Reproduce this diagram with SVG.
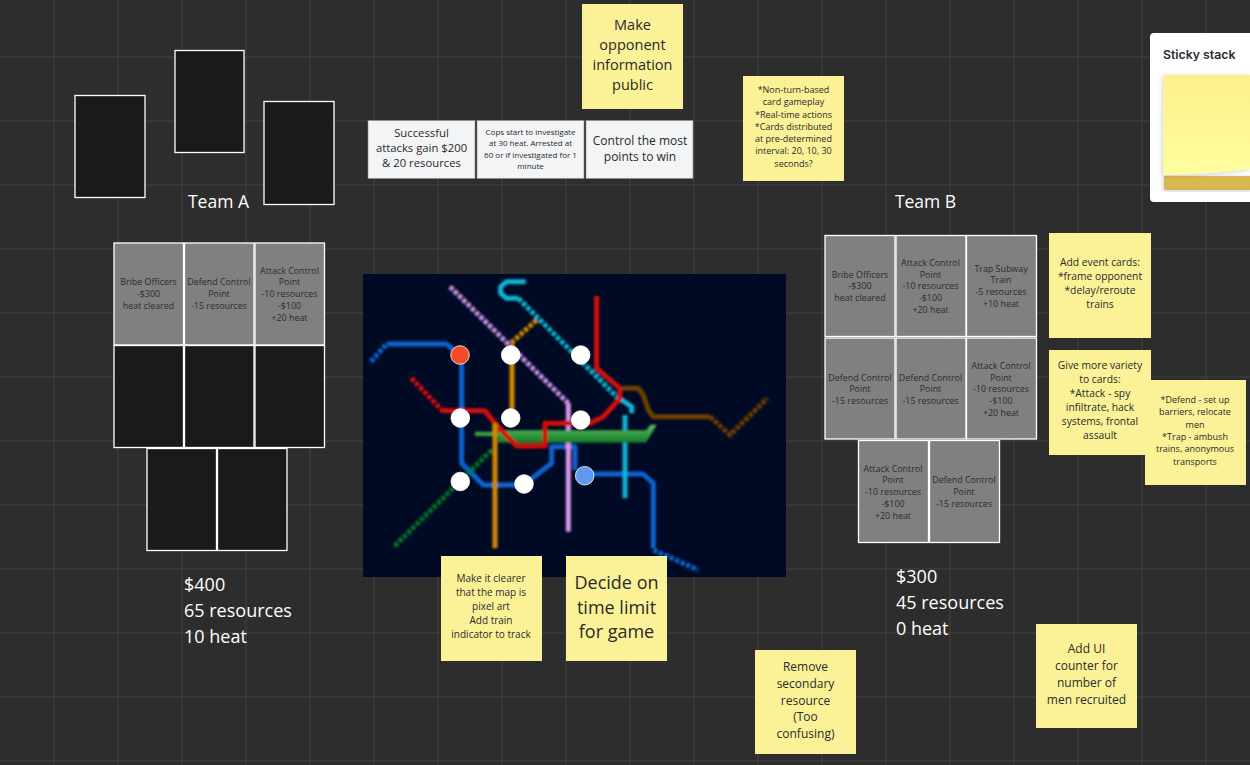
<svg xmlns="http://www.w3.org/2000/svg" width="1250" height="765" viewBox="0 0 1250 765">
<style>
text{font-family:"Open Sans","Noto Sans","Liberation Sans",sans-serif;text-anchor:middle;dominant-baseline:central;transform:translateY(-.7px)}
.grid{stroke:#3d3d3d;stroke-width:1.5;fill:none}
.black{fill:#1a1a1a;stroke:#fff;stroke-width:1.3}
.card rect{fill:#808080;stroke:#fff;stroke-width:1.3}
.card text{font-size:8.9px;fill:#2c2c2c}
.note{fill:#fbf297}
.white{fill:#f3f4f6;stroke:#8d8d8d;stroke-width:.6}
.ink{fill:#2a2a2a}
.lab{fill:#fff;text-anchor:start}
.l{fill:none;stroke-width:15;stroke-linejoin:round}
.d{stroke-dasharray:13 5}
.s{fill:#fff}
</style>
<defs>
<linearGradient id="gr" x1="0" y1="0" x2="0" y2="1"><stop offset="0" stop-color="#5cc163"/><stop offset="1" stop-color="#157a26"/></linearGradient>
<linearGradient id="st" x1="0" y1="0" x2="0" y2="1"><stop offset="0" stop-color="#fcf08b"/><stop offset="1" stop-color="#fffd9f"/></linearGradient>
<filter id="bl" x="-5%" y="-5%" width="110%" height="110%"><feGaussianBlur stdDeviation="2.6"/></filter>
<filter id="sh" x="-10%" y="-10%" width="120%" height="120%"><feDropShadow dx="-1" dy="1" stdDeviation="2" flood-color="#000" flood-opacity=".2"/></filter>
</defs>
<rect width="1250" height="765" fill="#2d2d2d"/>
<path class="grid" d="M54 0V765M118 0V765M182 0V765M246 0V765M310 0V765M374 0V765M438 0V765M502 0V765M566 0V765M630 0V765M694 0V765M758 0V765M822 0V765M886 0V765M950 0V765M1014 0V765M1078 0V765M1142 0V765M1206 0V765M0 57H1250M0 121H1250M0 185H1250M0 249H1250M0 313H1250M0 377H1250M0 441H1250M0 505H1250M0 569H1250M0 633H1250M0 697H1250M0 761H1250"/>

<g id="team-a-top-cards">
<rect class="black" x="75" y="95.500" width="70" height="102"/>
<rect class="black" x="175" y="50.500" width="69" height="102"/>
<rect class="black" x="264" y="101.500" width="70" height="103"/>
</g>
<text class="s" x="218.500" y="201.700" font-size="17.500">Team A</text>
<text class="s" x="925.500" y="201.700" font-size="17.500">Team B</text>

<g id="team-a-cards">
<g class="card"><rect x="114" y="243" width="69.500" height="102"/><text><tspan x="148.500" y="282">Bribe Officers</tspan><tspan x="148.500" y="294">-$300</tspan><tspan x="148.500" y="305.500">heat cleared</tspan></text></g>
<g class="card"><rect x="184.500" y="243" width="69.500" height="102"/><text><tspan x="219" y="282">Defend Control</tspan><tspan x="219" y="294">Point</tspan><tspan x="219" y="305.500">-15 resources</tspan></text></g>
<g class="card"><rect x="255" y="243" width="69.500" height="102"/><text><tspan x="289.500" y="270.500">Attack Control</tspan><tspan x="289.500" y="282">Point</tspan><tspan x="289.500" y="294">-10 resources</tspan><tspan x="289.500" y="305.500">-$100</tspan><tspan x="289.500" y="317.500">+20 heat</tspan></text></g>
<rect class="black" x="114" y="345.500" width="69.500" height="102"/>
<rect class="black" x="184.500" y="345.500" width="69.500" height="102"/>
<rect class="black" x="255" y="345.500" width="69.500" height="102"/>
<rect class="black" x="147" y="448.500" width="69.500" height="102"/>
<rect class="black" x="217.500" y="448.500" width="69.500" height="102"/>
</g>
<text class="lab" font-size="18"><tspan x="184" y="584.500">$400</tspan><tspan x="184" y="610.500">65 resources</tspan><tspan x="184" y="636.500">10 heat</tspan></text>

<g id="rules">
<g><rect class="white" x="368" y="120.500" width="107" height="58"/><text class="ink" font-size="11.300"><tspan x="421.500" y="133">Successful</tspan><tspan x="421.500" y="148">attacks gain $200</tspan><tspan x="421.500" y="163">&amp; 20 resources</tspan></text></g>
<g><rect class="white" x="477" y="120.500" width="107" height="58"/><text class="ink" font-size="8"><tspan x="530.500" y="132">Cops start to investigate</tspan><tspan x="530.500" y="143">at 30 heat. Arrested at</tspan><tspan x="530.500" y="154.500">60 or if investigated for 1</tspan><tspan x="530.500" y="165.500">minute</tspan></text></g>
<g><rect class="white" x="586" y="120.500" width="107" height="58"/><text class="ink" font-size="12"><tspan x="640" y="141">Control the most</tspan><tspan x="640" y="157">points to win</tspan></text></g>
</g>

<g id="map">
<rect x="363" y="274" width="423" height="303" fill="#000a24"/>
<g transform="translate(360 270) scale(.33333)" filter="url(#bl)">
<path class="l" stroke="#0f62d0" d="M80 222H260L305 262V580L370 645H490L575 580V530H645V600M670 612H850L880 640V835"/>
<path class="l d" stroke="#0f62d0" d="M33 275L80 222M880 840L1015 900"/>
<path class="l d" stroke="#cf90e0" d="M270 50L625 400"/>
<path class="l" stroke="#d894ea" d="M625 400V785"/>
<path class="l d" stroke="#d08800" d="M530 150L450 222"/>
<path class="l" stroke="#d08800" d="M456 222V440M405 460V835"/>
<path class="l" stroke="#10b4d6" d="M497 35H440L422 50V70L440 85H475"/>
<path class="l d" stroke="#10b4d6" d="M475 85L770 380"/>
<path class="l" stroke="#10b4d6" d="M770 380L815 410V430M795 435V685"/>
<path class="l d" stroke="#007426" d="M395 540L100 832"/>
<path d="M345 485H420V481H858L872 464H890L858 518H415V499H345Z" fill="url(#gr)"/>
<path class="l" stroke="#d40a0a" d="M710 78V295L780 355V385L730 440L690 460H555V528H470L405 460L375 422H250"/>
<path class="l d" stroke="#d40a0a" d="M250 425L150 320"/>
<path class="l" stroke="#6f3f05" d="M785 355H835L850 375L865 420L880 440H1050"/>
<path class="l d" stroke="#6f3f05" d="M1050 440L1110 495L1222 385"/>
<path class="l" stroke="#d08800" d="M405 460V500"/>
</g>
<g stroke="#fff" stroke-width=".8" fill="#fff">
<circle cx="460" cy="355" r="9.300" fill="#f44a26"/>
<circle cx="510.700" cy="355" r="9.300"/>
<circle cx="580.700" cy="355" r="9.300"/>
<circle cx="460.300" cy="418" r="9.300"/>
<circle cx="510.700" cy="418" r="9.300"/>
<circle cx="580.700" cy="420" r="9.300"/>
<circle cx="460.300" cy="481.500" r="9.300"/>
<circle cx="524" cy="484" r="9.300"/>
<circle cx="584.700" cy="475.700" r="9.300" fill="#6299f0"/>
</g>
</g>

<g id="notes">
<g><rect class="note" x="582" y="4" width="101" height="105"/><text class="ink" font-size="14.500"><tspan x="632.500" y="24.500">Make</tspan><tspan x="632.500" y="44.500">opponent</tspan><tspan x="632.500" y="64.500">information</tspan><tspan x="632.500" y="84.500">public</tspan></text></g>
<g><rect class="note" x="743" y="76" width="101" height="105"/><text class="ink" font-size="9"><tspan x="793.500" y="90">*Non-turn-based</tspan><tspan x="793.500" y="102">card gameplay</tspan><tspan x="793.500" y="114.500">*Real-time actions</tspan><tspan x="793.500" y="127">*Cards distributed</tspan><tspan x="793.500" y="139">at pre-determined</tspan><tspan x="793.500" y="151">interval: 20, 10, 30</tspan><tspan x="793.500" y="164">seconds?</tspan></text></g>
<g><rect class="note" x="1049" y="233" width="102" height="105"/><text class="ink" font-size="10.300"><tspan x="1100" y="263">Add event cards:</tspan><tspan x="1100" y="277">*frame opponent</tspan><tspan x="1100" y="291">*delay/reroute</tspan><tspan x="1100" y="305">trains</tspan></text></g>
<g><rect class="note" x="1049" y="350" width="102" height="105"/><text class="ink" font-size="10.300"><tspan x="1100" y="366">Give more variety</tspan><tspan x="1100" y="380">to cards:</tspan><tspan x="1100" y="394">*Attack - spy</tspan><tspan x="1100" y="408">infiltrate, hack</tspan><tspan x="1100" y="422">systems, frontal</tspan><tspan x="1100" y="436">assault</tspan></text></g>
<g><rect class="note" x="1145" y="380" width="101" height="105"/><text class="ink" font-size="9"><tspan x="1195" y="400">*Defend - set up</tspan><tspan x="1195" y="412">barriers, relocate</tspan><tspan x="1195" y="425">men</tspan><tspan x="1195" y="437">*Trap - ambush</tspan><tspan x="1195" y="449">trains, anonymous</tspan><tspan x="1195" y="462">transports</tspan></text></g>
<g><rect class="note" x="441" y="556" width="101" height="105"/><text class="ink" font-size="10"><tspan x="491" y="579">Make it clearer</tspan><tspan x="491" y="593">that the map is</tspan><tspan x="491" y="607">pixel art</tspan><tspan x="491" y="621">Add train</tspan><tspan x="491" y="635">indicator to track</tspan></text></g>
<g><rect class="note" x="566" y="556" width="101" height="105"/><text class="ink" font-size="18"><tspan x="616.500" y="583">Decide on</tspan><tspan x="616.500" y="608">time limit</tspan><tspan x="616.500" y="632">for game</tspan></text></g>
<g><rect class="note" x="755" y="650" width="101" height="104"/><text class="ink" font-size="12"><tspan x="805.500" y="667">Remove</tspan><tspan x="805.500" y="684">secondary</tspan><tspan x="805.500" y="701">resource</tspan><tspan x="805.500" y="717">(Too</tspan><tspan x="805.500" y="734">confusing)</tspan></text></g>
<g><rect class="note" x="1036" y="624" width="101" height="104"/><text class="ink" font-size="12"><tspan x="1086.500" y="649">Add UI</tspan><tspan x="1086.500" y="666">counter for</tspan><tspan x="1086.500" y="683">number of</tspan><tspan x="1086.500" y="700">men recruited</tspan></text></g>
</g>

<g id="team-b-cards">
<g class="card"><rect x="825" y="235.500" width="70" height="101"/><text><tspan x="860" y="274.500">Bribe Officers</tspan><tspan x="860" y="286">-$300</tspan><tspan x="860" y="298">heat cleared</tspan></text></g>
<g class="card"><rect x="896" y="235.500" width="70" height="101"/><text><tspan x="930.500" y="263">Attack Control</tspan><tspan x="930.500" y="274.500">Point</tspan><tspan x="930.500" y="286">-10 resources</tspan><tspan x="930.500" y="298">-$100</tspan><tspan x="930.500" y="310">+20 heat</tspan></text></g>
<g class="card"><rect x="966.500" y="235.500" width="70" height="101"/><text><tspan x="1001" y="268.500">Trap Subway</tspan><tspan x="1001" y="280">Train</tspan><tspan x="1001" y="292">-5 resources</tspan><tspan x="1001" y="304">+10 heat</tspan></text></g>
<g class="card"><rect x="825" y="338" width="70" height="101"/><text><tspan x="860" y="377.500">Defend Control</tspan><tspan x="860" y="389">Point</tspan><tspan x="860" y="401">-15 resources</tspan></text></g>
<g class="card"><rect x="896" y="338" width="70" height="101"/><text><tspan x="930.500" y="377.500">Defend Control</tspan><tspan x="930.500" y="389">Point</tspan><tspan x="930.500" y="401">-15 resources</tspan></text></g>
<g class="card"><rect x="966.500" y="338" width="70" height="101"/><text><tspan x="1001" y="366">Attack Control</tspan><tspan x="1001" y="377.500">Point</tspan><tspan x="1001" y="389">-10 resources</tspan><tspan x="1001" y="401">-$100</tspan><tspan x="1001" y="413">+20 heat</tspan></text></g>
<g class="card"><rect x="858.500" y="440.500" width="70" height="102"/><text><tspan x="893" y="468.500">Attack Control</tspan><tspan x="893" y="480">Point</tspan><tspan x="893" y="492">-10 resources</tspan><tspan x="893" y="504">-$100</tspan><tspan x="893" y="515.500">+20 heat</tspan></text></g>
<g class="card"><rect x="929.500" y="440.500" width="70" height="102"/><text><tspan x="964" y="480">Defend Control</tspan><tspan x="964" y="492">Point</tspan><tspan x="964" y="504">-15 resources</tspan></text></g>
</g>
<text class="lab" font-size="18"><tspan x="896" y="576.500">$300</tspan><tspan x="896" y="602.500">45 resources</tspan><tspan x="896" y="628.500">0 heat</tspan></text>

<g id="sticky-stack">
<rect x="1150" y="33" width="110" height="169" rx="4" fill="#fff"/>
<text x="1163" y="55" font-size="12.300" font-weight="600" fill="#2b2b33" style="font-family:Inter,'Liberation Sans',sans-serif;text-anchor:start">Sticky stack</text>
<rect x="1164" y="176" width="90" height="14" fill="#d9b84f" filter="url(#sh)"/>
<path d="M1163.500 75H1250V169Q1210 174 1163 175Z" fill="url(#st)" filter="url(#sh)"/>
</g>
</svg>
